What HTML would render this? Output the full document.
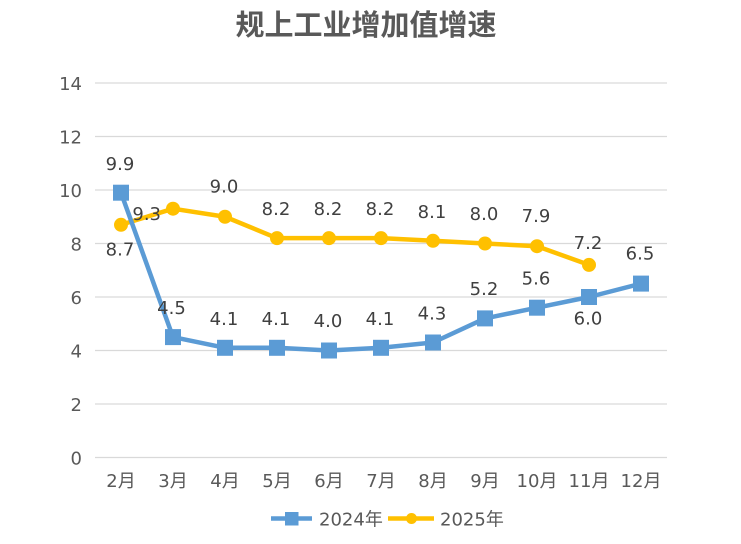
<!DOCTYPE html>
<html><head><meta charset="utf-8"><style>
html,body{margin:0;padding:0;background:#fff;}
svg{display:block;}
.ax{font-family:"DejaVu Sans","Liberation Sans","Noto Sans CJK SC",sans-serif;font-size:18px;fill:#595959;}
.dl{font-family:"DejaVu Sans","Liberation Sans",sans-serif;font-size:18px;fill:#404040;text-anchor:middle;}
</style></head><body>
<svg width="741" height="544" viewBox="0 0 741 544" xmlns="http://www.w3.org/2000/svg">
<rect width="741" height="544" fill="#fff"/>
<text x="366" y="23" text-anchor="middle" dominant-baseline="central" font-family="'Noto Sans CJK SC',sans-serif" font-weight="bold" font-size="29" fill="#595959">规上工业增加值增速</text>
<g stroke="#d9d9d9" stroke-width="1.3">
<line x1="95" y1="83" x2="667" y2="83"/>
<line x1="95" y1="136.5" x2="667" y2="136.5"/>
<line x1="95" y1="190" x2="667" y2="190"/>
<line x1="95" y1="243.5" x2="667" y2="243.5"/>
<line x1="95" y1="297" x2="667" y2="297"/>
<line x1="95" y1="350.5" x2="667" y2="350.5"/>
<line x1="95" y1="404" x2="667" y2="404"/>
<line x1="95" y1="457.5" x2="667" y2="457.5"/>
</g>
<g class="ax" text-anchor="end">
<text x="82" y="90">14</text>
<text x="82" y="143.5">12</text>
<text x="82" y="197">10</text>
<text x="82" y="250.5">8</text>
<text x="82" y="304">6</text>
<text x="82" y="357.5">4</text>
<text x="82" y="411">2</text>
<text x="82" y="464.5">0</text>
</g>
<g class="ax" text-anchor="middle">
<text x="121" y="487">2<tspan font-family="'Noto Sans CJK SC',sans-serif">月</tspan></text>
<text x="173" y="487">3<tspan font-family="'Noto Sans CJK SC',sans-serif">月</tspan></text>
<text x="225" y="487">4<tspan font-family="'Noto Sans CJK SC',sans-serif">月</tspan></text>
<text x="277" y="487">5<tspan font-family="'Noto Sans CJK SC',sans-serif">月</tspan></text>
<text x="329" y="487">6<tspan font-family="'Noto Sans CJK SC',sans-serif">月</tspan></text>
<text x="381" y="487">7<tspan font-family="'Noto Sans CJK SC',sans-serif">月</tspan></text>
<text x="433" y="487">8<tspan font-family="'Noto Sans CJK SC',sans-serif">月</tspan></text>
<text x="485" y="487">9<tspan font-family="'Noto Sans CJK SC',sans-serif">月</tspan></text>
<text x="537" y="487">10<tspan font-family="'Noto Sans CJK SC',sans-serif">月</tspan></text>
<text x="589" y="487">11<tspan font-family="'Noto Sans CJK SC',sans-serif">月</tspan></text>
<text x="641" y="487">12<tspan font-family="'Noto Sans CJK SC',sans-serif">月</tspan></text>
</g>
<!-- 2025 series -->
<polyline fill="none" stroke="#FFC000" stroke-width="4.5" stroke-linejoin="round" points="121,224.8 173,208.7 225,216.75 277,238.15 329,238.15 381,238.15 433,240.8 485,243.5 537,246.2 589,264.9"/>
<g fill="#FFC000">
<circle cx="121" cy="224.8" r="7"/><circle cx="173" cy="208.7" r="7"/><circle cx="225" cy="216.75" r="7"/><circle cx="277" cy="238.15" r="7"/><circle cx="329" cy="238.15" r="7"/><circle cx="381" cy="238.15" r="7"/><circle cx="433" cy="240.8" r="7"/><circle cx="485" cy="243.5" r="7"/><circle cx="537" cy="246.2" r="7"/><circle cx="589" cy="264.9" r="7"/>
</g>
<!-- 2024 series -->
<polyline fill="none" stroke="#5B9BD5" stroke-width="4.5" stroke-linejoin="round" points="121,192.7 173,337.1 225,347.8 277,347.8 329,350.5 381,347.8 433,342.5 485,318.4 537,307.7 589,297 641,283.6"/>
<g fill="#5B9BD5">
<rect x="113" y="184.7" width="16" height="16"/><rect x="165" y="329.1" width="16" height="16"/><rect x="217" y="339.8" width="16" height="16"/><rect x="269" y="339.8" width="16" height="16"/><rect x="321" y="342.5" width="16" height="16"/><rect x="373" y="339.8" width="16" height="16"/><rect x="425" y="334.5" width="16" height="16"/><rect x="477" y="310.4" width="16" height="16"/><rect x="529" y="299.7" width="16" height="16"/><rect x="581" y="289" width="16" height="16"/><rect x="633" y="275.6" width="16" height="16"/>
</g>
<!-- data labels 2024 -->
<g class="dl">
<text x="120" y="169.8">9.9</text>
<text x="171.5" y="314">4.5</text>
<text x="224" y="324.8">4.1</text>
<text x="276" y="324.8">4.1</text>
<text x="328" y="327">4.0</text>
<text x="380" y="324.8">4.1</text>
<text x="432" y="319.3">4.3</text>
<text x="484" y="294.8">5.2</text>
<text x="536" y="284.3">5.6</text>
<text x="588" y="324.5">6.0</text>
<text x="640" y="259.5">6.5</text>
</g>
<!-- data labels 2025 -->
<g class="dl">
<text x="120" y="255.3">8.7</text>
<text x="146.7" y="219.8">9.3</text>
<text x="224" y="192.6">9.0</text>
<text x="276" y="214.8">8.2</text>
<text x="328" y="214.8">8.2</text>
<text x="380" y="214.8">8.2</text>
<text x="432" y="218.2">8.1</text>
<text x="484" y="219.8">8.0</text>
<text x="536" y="222">7.9</text>
<text x="588" y="249">7.2</text>
</g>
<!-- legend -->
<line x1="271" y1="518.5" x2="312" y2="518.5" stroke="#5B9BD5" stroke-width="4.5"/>
<rect x="285" y="512" width="13.5" height="13.5" fill="#5B9BD5"/>
<text class="ax" x="319" y="525.7">2024<tspan font-family="'Noto Sans CJK SC',sans-serif">年</tspan></text>
<line x1="388" y1="518.5" x2="434" y2="518.5" stroke="#FFC000" stroke-width="4.5"/>
<circle cx="411.5" cy="518.5" r="5.5" fill="#FFC000"/>
<text class="ax" x="440" y="525.7">2025<tspan font-family="'Noto Sans CJK SC',sans-serif">年</tspan></text>
</svg>
</body></html>
